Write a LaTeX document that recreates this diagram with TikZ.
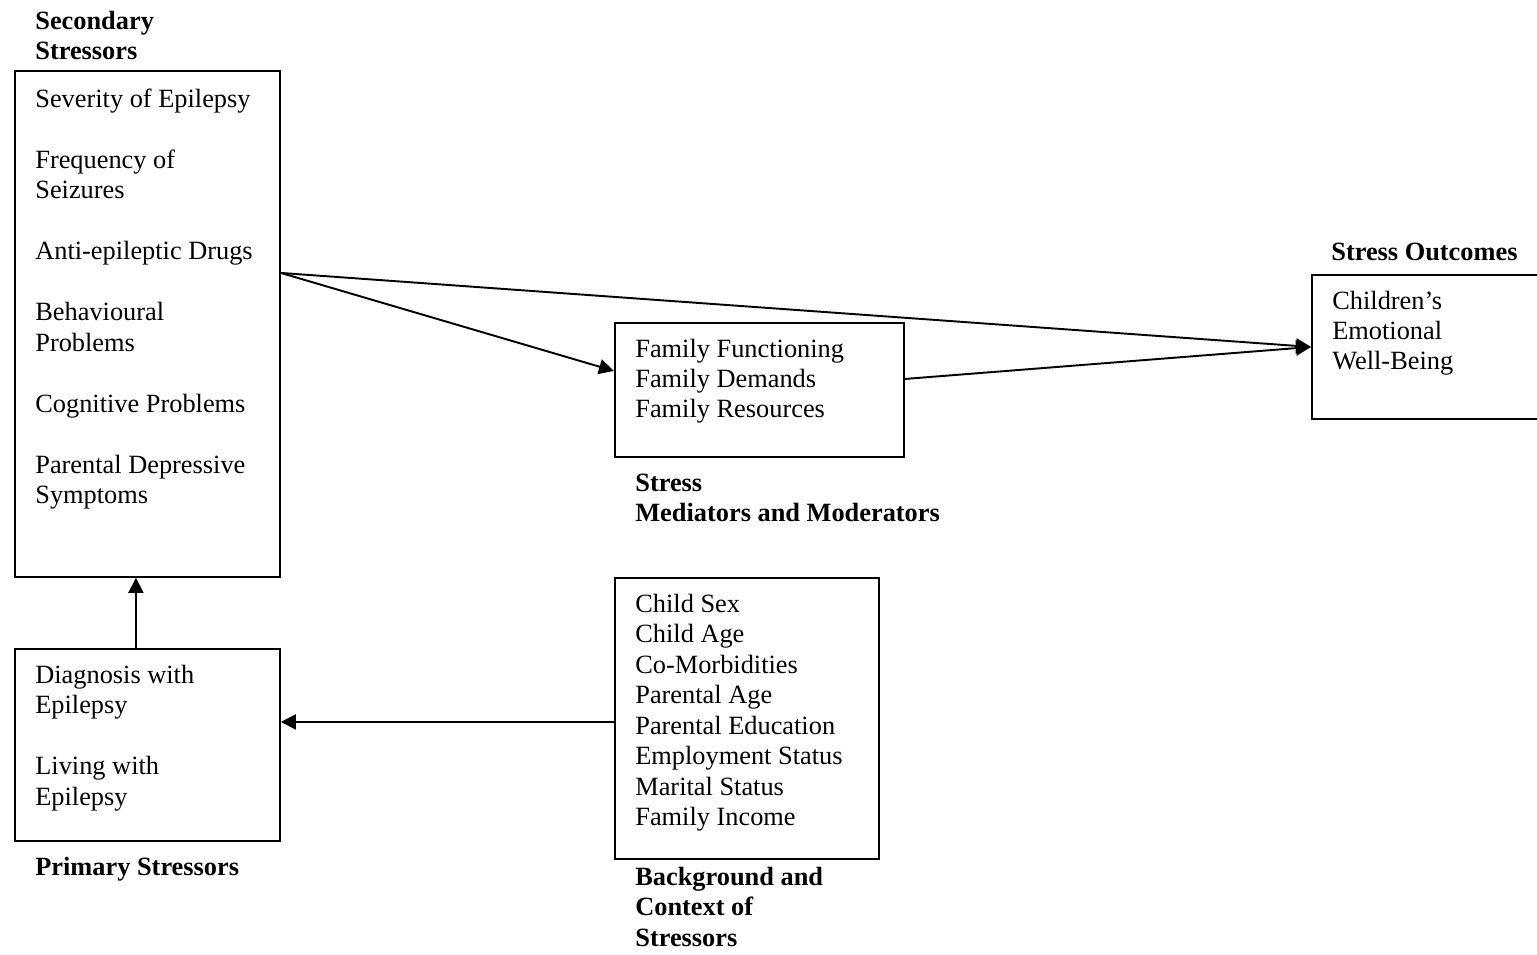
\documentclass[tikz,border=0pt]{standalone}
\usepackage{fontspec}
\setmainfont{Liberation Serif}
\usetikzlibrary{arrows.meta}

\begin{document}
\begin{tikzpicture}[x=0.02cm, y=-0.02cm,
		blk/.style={draw, line width=1.1pt, inner sep=0, anchor=north west},
		txt/.style={font=\fontsize{15}{17.35}\selectfont, align=left, inner sep=0, anchor=base west},
		hdr/.style={txt, font=\fontsize{15}{17.35}\selectfont\bfseries},
		arr/.style={line width=1.1pt, -{Triangle[length=0.3cm, width=0.3cm]}}]
		\useasboundingbox (0, 0) rectangle (1537, 955);

		% boxes
		\node[blk, minimum width=5.3cm, minimum height=10.12cm] at (14, 70) (second) {};
		\node[blk, minimum width=5.3cm, minimum height=3.84cm] at (14, 648) (primary) {};
		\node[blk, minimum width=5.78cm, minimum height=2.68cm] at (614, 322) (mediate) {};
		\node[blk, minimum width=5.2cm, minimum height=2.88cm] at (1311, 274) (outcome) {};
		\node[blk, minimum width=5.28cm, minimum height=5.62cm] at (614, 577) (context) {};

		% box texts (placed by the baseline of their last line)
		\node[txt] at (35, 503.5) (secondtxt) {Severity of Epilepsy\\[17.35pt]
			Frequency of\\ Seizures\\[17.35pt]
			Anti-epileptic Drugs\\[17.35pt]
			Behavioural\\ Problems\\[17.35pt]
			Cognitive Problems\\[17.35pt]
			Parental Depressive\\ Symptoms};
		\node[txt] at (35, 805) (primarytxt) {Diagnosis with\\ Epilepsy\\[17.35pt] Living with\\ Epilepsy};
		\node[txt] at (635, 418) (mediatetxt) {Family Functioning\\ Family Demands\\ Family Resources};
		\node[txt] at (1332, 370) (outcometxt) {Children’s\\ Emotional\\ Well-Being};
		\node[txt] at (635, 825.5) (contexttxt) {Child Sex\\ Child Age\\ Co-Morbidities\\ Parental Age\\
			Parental Education\\ Employment Status\\ Marital Status\\ Family Income};

		% headings
		\node[hdr] at (35, 59.5) (secondhdr) {Secondary\\ Stressors};
		\node[hdr] at (35, 875) (primaryhdr) {Primary Stressors};
		\node[hdr] at (635, 521.5) (mediatehdr) {Stress\\ Mediators and Moderators};
		\node[hdr] at (1331, 261) (outcomehdr) {Stress Outcomes};
		\node[hdr] at (635, 946) (contexthdr) {Background and\\ Context of\\ Stressors};

		% arrows
		\coordinate (src) at ([yshift=-4.06cm]second.north east);
		\draw[arr] ([xshift=-0.23cm]primary.north) -- ([xshift=-0.23cm]second.south);
		\draw[arr] (src) -- ([yshift=0.38cm]mediate.west);
		\draw[arr] (src) -- (outcome.west);
		\draw[arr] ([yshift=0.22cm]mediate.east) -- (outcome.west);
		\draw[arr] ([yshift=-0.07cm]context.west) -- ([yshift=-0.07cm]context.west -| primary.east);
	\end{tikzpicture}
\end{document}
